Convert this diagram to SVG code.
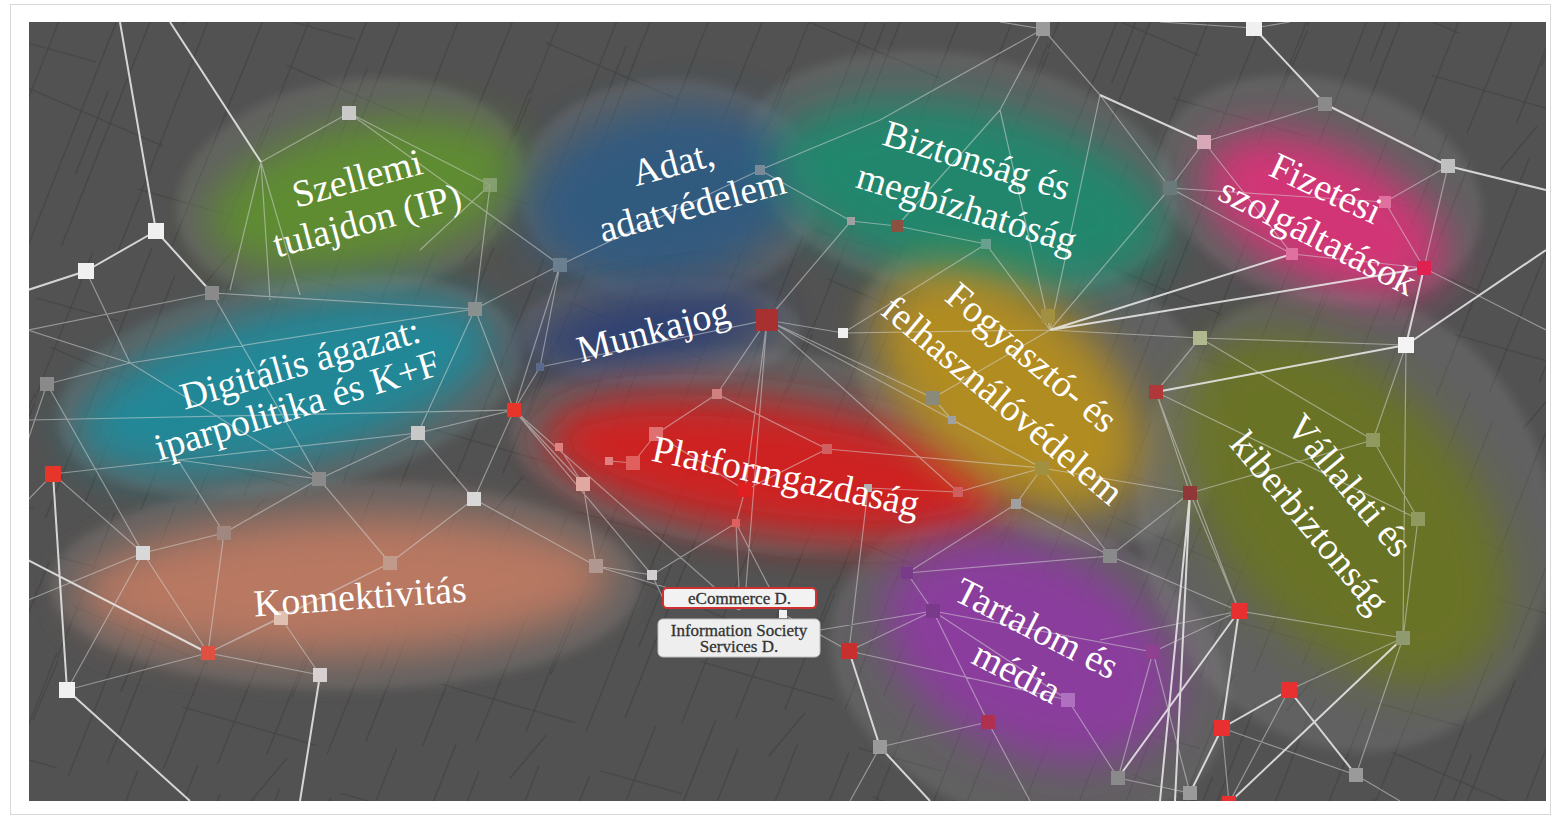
<svg xmlns="http://www.w3.org/2000/svg" width="1557" height="817" viewBox="0 0 1557 817">
<defs>
<filter id="blur" x="-50%" y="-50%" width="200%" height="200%"><feGaussianBlur stdDeviation="22"/></filter>
<filter id="soft" x="-20%" y="-20%" width="140%" height="140%"><feGaussianBlur stdDeviation="5"/></filter>
<clipPath id="panel"><rect x="29" y="22" width="1517" height="779"/></clipPath>
<pattern id="scratch" width="260" height="260" patternUnits="userSpaceOnUse" patternTransform="rotate(-5)">
<g stroke="#2c2c2c" stroke-width="1.2" fill="none" opacity="0.4">
<path d="M0,260 L130,0"/><path d="M40,250 L150,30"/><path d="M95,262 L210,30"/><path d="M150,260 L262,40"/><path d="M200,255 L265,125"/><path d="M-5,150 L70,0"/><path d="M20,90 L150,160"/><path d="M120,200 L250,250"/><path d="M180,40 L225,-5"/><path d="M60,180 L100,100"/><path d="M230,200 L262,140"/><path d="M10,40 L90,70"/>
</g>
</pattern>
<style>
.s{stroke:#ececec;stroke-width:2;opacity:.85;fill:none}
.f{stroke:#dcdcdc;stroke-width:1.2;opacity:.5;fill:none}
.lbl{font-family:"Liberation Serif","Times New Roman",serif;font-size:38px;fill:#ffffff;text-anchor:middle}
.blob{filter:url(#blur);opacity:.92}
.disc{fill:#a0a0a0;opacity:.2;filter:url(#soft)}
.box{font-family:"Liberation Serif","Times New Roman",serif;font-size:17px;fill:#333333;text-anchor:middle;stroke:#333333;stroke-width:0.3}
</style>
</defs>
<rect width="1557" height="817" fill="#ffffff"/>
<rect x="10.5" y="4.5" width="1540" height="810" fill="#ffffff" stroke="#d8d8d8" stroke-width="1"/>
<rect x="29" y="22" width="1517" height="779" fill="#525252"/>
<g clip-path="url(#panel)">
<rect x="29" y="22" width="1517" height="779" fill="url(#scratch)"/>
<g id="discs">
<ellipse class="disc" cx="350" cy="190" rx="175" ry="110" transform="rotate(-10 350 190)"/>
<ellipse class="disc" cx="670" cy="190" rx="150" ry="110"/>
<ellipse class="disc" cx="960" cy="175" rx="220" ry="120" transform="rotate(10 960 175)"/>
<ellipse class="disc" cx="1320" cy="190" rx="165" ry="110" transform="rotate(15 1320 190)"/>
<ellipse class="disc" cx="290" cy="385" rx="235" ry="105" transform="rotate(-10 290 385)"/>
<ellipse class="disc" cx="760" cy="450" rx="250" ry="100" transform="rotate(5 760 450)"/>
<ellipse class="disc" cx="1040" cy="390" rx="200" ry="140" transform="rotate(30 1040 390)"/>
<ellipse class="disc" cx="1345" cy="520" rx="205" ry="235" transform="rotate(-20 1345 520)"/>
<ellipse class="disc" cx="345" cy="585" rx="295" ry="105"/>
<ellipse class="disc" cx="1030" cy="670" rx="205" ry="150" transform="rotate(20 1030 670)"/>
<ellipse class="disc" cx="660" cy="330" rx="140" ry="55"/>
</g>
<g id="blobs">
<ellipse class="blob" cx="365" cy="195" rx="160" ry="72" transform="rotate(-12 365 195)" fill="#5e902e"/>
<ellipse class="blob" cx="665" cy="195" rx="140" ry="88" transform="rotate(-10 665 195)" fill="#2e5a82"/>
<ellipse class="blob" cx="970" cy="195" rx="200" ry="88" transform="rotate(12 970 195)" fill="#1f8a6e"/>
<ellipse class="blob" cx="1325" cy="215" rx="130" ry="66" transform="rotate(25 1325 215)" fill="#dc3078"/>
<ellipse class="blob" cx="285" cy="385" rx="215" ry="76" transform="rotate(-14 285 385)" fill="#1f8b9c"/>
<ellipse class="blob" cx="650" cy="330" rx="125" ry="36" transform="rotate(-8 650 330)" fill="#2c3e74"/>
<ellipse class="blob" cx="775" cy="468" rx="235" ry="66" transform="rotate(8 775 468)" fill="#d81f1f"/>
<ellipse class="blob" cx="1010" cy="390" rx="155" ry="92" transform="rotate(40 1010 390)" fill="#b8901c"/>
<ellipse class="blob" cx="1345" cy="510" rx="205" ry="125" transform="rotate(50 1345 510)" fill="#6b7422"/>
<ellipse class="blob" cx="345" cy="585" rx="268" ry="70" transform="rotate(-2 345 585)" fill="#c07a62"/>
<ellipse class="blob" cx="1030" cy="650" rx="155" ry="102" transform="rotate(25 1030 650)" fill="#8e3aa2"/>
</g>
<g id="connectors">
<path class="s" d="M120,22L156,231M170,22L261,162M156,231L86,271M156,231L212,293M86,271L28,290M53,474L67,690M28,560L208,653M67,690L190,801M320,675L300,801M1254,28L1325,104M1325,104L1448,166M1448,166L1546,190M1406,345L1546,250M1406,345L1424,268M1406,345L1156,392M1050,330L1424,268M1050,330L1292,254M1403,638L1229,803M1239,611L1118,778M1190,493L1175,801M1190,493L1160,801M849,651L880,747M880,747L930,801M1222,728L1289,690M1222,728L1190,793M1239,611L1222,728M1289,690L1356,775M1204,142L1100,95"/>
<path class="f" d="M514,410L28,420M261,162L349,113M261,162L270,300M261,162L300,295M261,162L230,290M349,113L490,185M349,113L560,265M490,185L475,309M490,185L420,250M212,293L475,309M212,293L319,479M212,293L28,330M86,271L130,363M130,363L28,330M130,363L47,384M130,363L319,479M130,363L475,309M47,384L28,440M47,384L143,553M53,474L28,500M53,474L143,553M53,474L178,460M178,460L319,479M178,460L224,533M178,460L418,433M418,433L475,309M418,433L514,410M418,433L474,499M418,433L319,479M319,479L224,533M319,479L390,563M224,533L143,553M224,533L208,653M143,553L208,653M143,553L67,690M143,553L28,600M390,563L474,499M390,563L281,618M390,563L208,653M281,618L208,653M281,618L320,675M208,653L320,675M208,653L67,690M474,499L596,566M474,499L514,410M596,566L652,575M596,566L583,484M514,410L475,309M514,410L560,265M514,410L540,367M514,410L583,484M514,410L652,575M514,410L740,610M596,566L740,610M475,309L560,265M560,265L760,170M560,265L540,367M540,367L767,320M767,320L843,333M767,320L745,490M767,320L717,394M767,320L851,221M767,320L1042,468M767,320L958,492M767,320L745,600M843,333L1050,330M843,333L986,244M851,221L897,226M897,226L986,244M760,170L851,221M986,244L1050,330M1050,330L1048,316M1050,330L1200,338M1050,330L1170,188M1050,330L933,398M933,398L952,420M933,398L767,320M952,420L1042,468M1042,468L1190,493M1042,468L1110,556M1042,468L958,492M1042,468L827,449M958,492L868,488M827,449L717,394M827,449L745,490M745,490L736,523M745,490L656,434M656,434L633,463M633,463L609,461M583,484L559,447M717,394L656,434M736,523L652,575M736,523L783,614M736,523L740,610M783,614L849,651M652,575L663,598M1200,338L1156,392M1200,338L1373,440M1200,338L1406,345M1156,392L1190,493M1156,392L1239,611M1156,392L1418,519M1373,440L1406,345M1373,440L1418,519M1373,440L1190,493M1418,519L1403,638M1406,345L1403,638M1190,493L1239,611M1190,493L1110,556M1239,611L1153,652M1403,638L1239,611M1403,638L1289,690M1403,638L1356,775M1222,728L1356,775M1222,728L1229,803M1289,690L1229,803M1110,556L907,573M1110,556L1239,611M907,573L933,611M933,611L849,651M933,611L1153,652M933,611L1068,700M933,611L988,722M933,611L820,630M1153,652L1118,778M1153,652L1190,793M988,722L880,747M988,722L1030,801M1068,700L1118,778M1118,778L1190,793M849,651L1068,700M1170,188L1204,142M1204,142L1325,104M1204,142L1292,254M1170,188L1292,254M1170,188L1385,202M1292,254L1424,268M1385,202L1448,166M1385,202L1424,268M1448,166L1424,268M1043,29L1000,110M1043,29L1100,95M1043,29L880,120M1100,95L1170,188M1254,28L1160,22M1000,110L897,226M1000,110L1050,330M1100,95L1050,330M880,120L760,170M1043,29L1000,22M1254,28L1290,22M1424,268L1546,330M1239,611L1100,640M1356,775L1400,801M880,747L850,801M1042,468L1016,504M1016,504L1110,556M1016,504L907,573M868,488L849,651"/>
</g>
<g id="points">
<rect x="342" y="106" width="14" height="14" fill="#c9c9c9"/>
<rect x="148" y="223" width="16" height="16" fill="#f0f0f0"/>
<rect x="78" y="263" width="16" height="16" fill="#f0f0f0"/>
<rect x="205" y="286" width="14" height="14" fill="#8a8a8a"/>
<rect x="483" y="178" width="14" height="14" fill="#8fa57a" opacity=".8"/>
<rect x="468" y="302" width="14" height="14" fill="#8a9090"/>
<rect x="40" y="377" width="14" height="14" fill="#8a8a8a"/>
<rect x="411" y="426" width="14" height="14" fill="#c8c8c8"/>
<rect x="507" y="403" width="14" height="14" fill="#e8352a"/>
<rect x="45" y="466" width="16" height="16" fill="#e8352a"/>
<rect x="312" y="472" width="14" height="14" fill="#8a8a8a"/>
<rect x="467" y="492" width="14" height="14" fill="#d8d8d8"/>
<rect x="136" y="546" width="14" height="14" fill="#d8d8d8"/>
<rect x="217" y="526" width="14" height="14" fill="#a08880"/>
<rect x="383" y="556" width="14" height="14" fill="#c09a8a"/>
<rect x="589" y="559" width="14" height="14" fill="#b09890"/>
<rect x="274" y="611" width="14" height="14" fill="#e0c0b0"/>
<rect x="201" y="646" width="14" height="14" fill="#e05040"/>
<rect x="59" y="682" width="16" height="16" fill="#f0f0f0"/>
<rect x="313" y="668" width="14" height="14" fill="#d8d0d0"/>
<rect x="553" y="258" width="14" height="14" fill="#6a8090"/>
<rect x="1036" y="22" width="14" height="14" fill="#9a9a9a"/>
<rect x="1246" y="20" width="16" height="16" fill="#f0f0f0"/>
<rect x="1318" y="97" width="14" height="14" fill="#8a8a8a"/>
<rect x="1197" y="135" width="14" height="14" fill="#d8a8b8"/>
<rect x="1163" y="181" width="14" height="14" fill="#6a7a7a"/>
<rect x="1441" y="159" width="14" height="14" fill="#c0c0c0"/>
<rect x="1417" y="261" width="14" height="14" fill="#e02050"/>
<rect x="1286" y="248" width="12" height="12" fill="#e070a0"/>
<rect x="1379" y="196" width="12" height="12" fill="#e070a0"/>
<rect x="1398" y="337" width="16" height="16" fill="#f4f4f4"/>
<rect x="1193" y="331" width="14" height="14" fill="#b0b890"/>
<rect x="1149" y="385" width="14" height="14" fill="#b03838"/>
<rect x="1366" y="433" width="14" height="14" fill="#909a60"/>
<rect x="1411" y="512" width="14" height="14" fill="#909a60"/>
<rect x="1183" y="486" width="14" height="14" fill="#903838"/>
<rect x="1396" y="631" width="14" height="14" fill="#909a70"/>
<rect x="1231" y="603" width="16" height="16" fill="#e83030"/>
<rect x="1281" y="682" width="16" height="16" fill="#e83030"/>
<rect x="1214" y="720" width="16" height="16" fill="#e83030"/>
<rect x="1349" y="768" width="14" height="14" fill="#9a9a9a"/>
<rect x="1222" y="796" width="14" height="14" fill="#e83030"/>
<rect x="1183" y="786" width="14" height="14" fill="#9a9a9a"/>
<rect x="1111" y="771" width="14" height="14" fill="#8a8a8a"/>
<rect x="873" y="740" width="14" height="14" fill="#9a9a9a"/>
<rect x="981" y="715" width="14" height="14" fill="#b03050"/>
<rect x="1061" y="693" width="14" height="14" fill="#b070c0"/>
<rect x="926" y="604" width="14" height="14" fill="#7a3a8a"/>
<rect x="1146" y="645" width="14" height="14" fill="#904090"/>
<rect x="1103" y="549" width="14" height="14" fill="#8a8a8a"/>
<rect x="841" y="643" width="16" height="16" fill="#c83030"/>
<rect x="901" y="567" width="12" height="12" fill="#7a3a8a"/>
<rect x="779" y="610" width="8" height="8" fill="#f0f0f0"/>
<rect x="647" y="570" width="10" height="10" fill="#d0d0d0"/>
<rect x="756" y="309" width="22" height="22" fill="#a83030"/>
<rect x="838" y="328" width="10" height="10" fill="#f0f0f0"/>
<rect x="891" y="220" width="12" height="12" fill="#8a5040"/>
<rect x="981" y="239" width="10" height="10" fill="#6aa090"/>
<rect x="847" y="217" width="8" height="8" fill="#a0a0a0"/>
<rect x="755" y="165" width="10" height="10" fill="#7a8a9a"/>
<rect x="1041" y="309" width="14" height="14" fill="#a09040"/>
<rect x="1035" y="461" width="14" height="14" fill="#a09040"/>
<rect x="926" y="391" width="14" height="14" fill="#8a8a7a"/>
<rect x="948" y="416" width="8" height="8" fill="#a0a0a0"/>
<rect x="712" y="389" width="10" height="10" fill="#d08080"/>
<rect x="822" y="444" width="10" height="10" fill="#d06060"/>
<rect x="953" y="487" width="10" height="10" fill="#d06060"/>
<rect x="864" y="484" width="8" height="8" fill="#b0b0b0"/>
<rect x="649" y="427" width="14" height="14" fill="#e07070"/>
<rect x="626" y="456" width="14" height="14" fill="#e06060"/>
<rect x="576" y="477" width="14" height="14" fill="#e0a8a0"/>
<rect x="605" y="457" width="8" height="8" fill="#e08080"/>
<rect x="555" y="443" width="8" height="8" fill="#e08080"/>
<rect x="738" y="483" width="14" height="14" fill="#e02020"/>
<rect x="732" y="519" width="8" height="8" fill="#e06060"/>
<rect x="1011" y="499" width="10" height="10" fill="#a0a0a0"/>
<rect x="536" y="363" width="8" height="8" fill="#5a6a8a"/>
</g>
</g>
<g id="ip" class="lbl">
<text transform="translate(357 178) rotate(-15)" y="13">Szellemi</text>
<text transform="translate(367 220) rotate(-15)" y="13">tulajdon (IP)</text>
</g>
<g id="adat" class="lbl">
<text transform="translate(673 163) rotate(-15)" y="13">Adat,</text>
<text transform="translate(692 205) rotate(-15)" y="13">adatvédelem</text>
</g>
<g id="biztonsag" class="lbl">
<text transform="translate(977 160) rotate(17)" y="13">Biztonság és</text>
<text transform="translate(967 208) rotate(17)" y="13">megbízhatóság</text>
</g>
<g id="fizetesi" class="lbl">
<text transform="translate(1326 188) rotate(25)" y="13">Fizetési</text>
<text transform="translate(1318 236) rotate(27)" y="13">szolgáltatások</text>
</g>
<g id="digitalis" class="lbl">
<text transform="translate(300 363) rotate(-16)" y="13">Digitális ágazat:</text>
<text transform="translate(297 405) rotate(-17)" y="13">iparpolitika és K+F</text>
</g>
<g id="munkajog" class="lbl">
<text transform="translate(653 330) rotate(-15)" y="13">Munkajog</text>
</g>
<g id="platform" class="lbl">
<text transform="translate(786 476) rotate(12)" y="13">Platformgazdaság</text>
</g>
<g id="fogyaszto" class="lbl">
<text transform="translate(1032 357) rotate(40)" y="13">Fogyasztó- és</text>
<text transform="translate(1003 400) rotate(40)" y="13">felhasználóvédelem</text>
</g>
<g id="vallalati" class="lbl">
<text transform="translate(1350 485) rotate(50)" y="13">Vállalati és</text>
<text transform="translate(1310 522) rotate(50)" y="13">kiberbiztonság</text>
</g>
<g id="konnektivitas" class="lbl">
<text transform="translate(360 596) rotate(-4)" y="13">Konnektivitás</text>
</g>
<g id="tartalom" class="lbl">
<text transform="translate(1037 628) rotate(27)" y="13">Tartalom és</text>
<text transform="translate(1017 672) rotate(27)" y="13">média</text>
</g>
<g id="ecommerce">
<rect x="663" y="588" width="153" height="20" rx="4" fill="#f2f2f2" stroke="#d03030" stroke-width="2"/>
<text class="box" x="739.5" y="604" font-size="18">eCommerce D.</text>
</g>
<g id="iss">
<rect x="658" y="619" width="162" height="38" rx="5" fill="#eeeeee" stroke="#c0c0c0" stroke-width="1"/>
<text class="box" x="739" y="636">Information Society</text>
<text class="box" x="739" y="652">Services D.</text>
</g>
</svg>
